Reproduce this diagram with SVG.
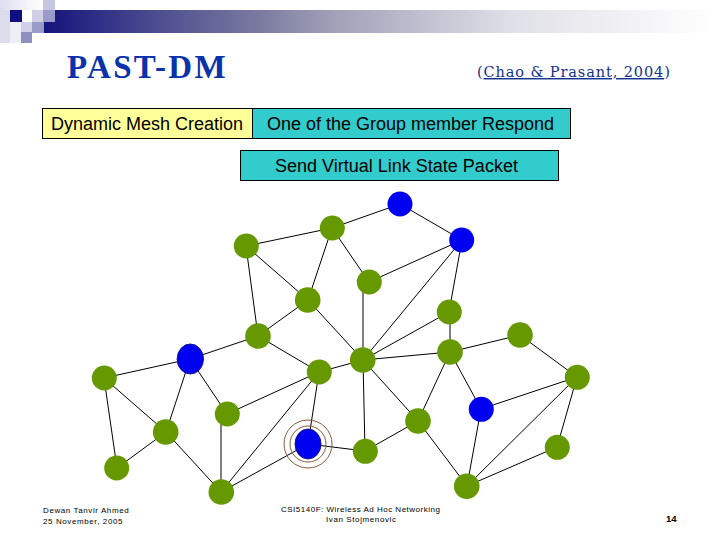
<svg xmlns="http://www.w3.org/2000/svg" width="720" height="540" viewBox="0 0 720 540">
<style>
text{font-family:"Liberation Sans",Arial,sans-serif;fill:#000}
.box{stroke:#000;stroke-width:1}
.lab{font-size:18px;text-anchor:middle}
.foot{font-size:8px;letter-spacing:.6px}
#connectors line{stroke:#000;stroke-width:1}
.g{fill:#669900}.b{fill:#0000f0}
.ring{fill:none;stroke:#8a5a3c;stroke-width:1}
</style>
<defs>
<linearGradient id="band" x1="0" x2="1" y1="0" y2="0"><stop offset="0" stop-color="#14147d"/><stop offset=".16" stop-color="#4a4a8f"/><stop offset=".31" stop-color="#77779f"/><stop offset=".43" stop-color="#a0a0b8"/><stop offset=".7" stop-color="#e0e0e8"/><stop offset="1" stop-color="#ffffff"/></linearGradient>
<linearGradient id="fade" x1="0" x2="1" y1="0" y2="0"><stop offset="0" stop-color="#dedeee"/><stop offset="1" stop-color="#ffffff"/></linearGradient>
</defs>
<rect width="720" height="540" fill="#fff"/>
<rect x="44" y="10" width="670" height="23" fill="url(#band)"/>
<g id="corner">
<rect x="0" y="0" width="43" height="10" fill="url(#fade)"/>
<rect x="0" y="10" width="10" height="33" fill="#dcdcec"/>
<rect x="10" y="22" width="11" height="21" fill="#eeeef6"/>
<rect x="10" y="10" width="12" height="12" fill="#0f0f7d"/>
<rect x="32" y="10" width="11" height="12" fill="#cfcfe6"/>
<rect x="43" y="0" width="12" height="10" fill="#c6c6e0"/>
<rect x="43" y="10" width="12" height="12" fill="#9a9acb"/>
<rect x="21" y="22" width="11" height="10" fill="#d0d0e6"/>
<rect x="32" y="22" width="12" height="11" fill="#9a9ac8"/>
<rect x="21" y="32" width="11" height="11" fill="#8f8fc0"/>
</g>
<text x="67" y="78" style="font-family:'Liberation Serif',serif;font-weight:bold;font-size:33px;fill:#0a32aa;letter-spacing:2.300px">PAST-DM</text>
<text x="477" y="77" style="font-family:'DejaVu Serif',serif;font-size:14.500px;fill:#13318f;letter-spacing:.9px">(<tspan text-decoration="underline">Chao &amp; Prasant, 2004</tspan>)</text>
<g id="node-dmc"><rect class="box" x="42.500" y="108.500" width="210" height="30" fill="#ffff99"/><text class="lab" x="147" y="130">Dynamic Mesh Creation</text></g>
<g id="node-respond"><rect class="box" x="252.500" y="108.500" width="318" height="30" fill="#33cccc"/><text class="lab" x="410.500" y="130">One of the Group member Respond</text></g>
<g id="node-send"><rect class="box" x="240.500" y="150.500" width="318" height="30" fill="#33cccc"/><text class="lab" x="396.500" y="172">Send Virtual Link State Packet</text></g>
<g id="connectors">
<line x1="400" y1="204" x2="332" y2="228"/><line x1="400" y1="204" x2="462" y2="240"/><line x1="332" y1="228" x2="246" y2="246"/><line x1="332" y1="228" x2="308" y2="300"/><line x1="332" y1="228" x2="369" y2="282"/>
<line x1="246" y1="246" x2="308" y2="300"/><line x1="246" y1="246" x2="258" y2="336"/><line x1="308" y1="300" x2="258" y2="336"/><line x1="308" y1="300" x2="363" y2="360"/>
<line x1="369" y1="282" x2="462" y2="240"/><line x1="363" y1="282" x2="363" y2="360"/><line x1="462" y1="240" x2="363" y2="360"/><line x1="462" y1="240" x2="449" y2="312"/>
<line x1="449" y1="312" x2="363" y2="360"/><line x1="450" y1="312" x2="450" y2="352"/><line x1="450" y1="352" x2="363" y2="360"/><line x1="450" y1="352" x2="520" y2="335"/>
<line x1="258" y1="336" x2="319" y2="372"/><line x1="258" y1="336" x2="190" y2="359"/><line x1="319" y1="372" x2="363" y2="360"/>
<line x1="190" y1="359" x2="104" y2="378"/><line x1="190" y1="359" x2="166" y2="432"/><line x1="190" y1="359" x2="227" y2="414"/>
<line x1="104" y1="378" x2="166" y2="432"/><line x1="104" y1="378" x2="117" y2="468"/><line x1="166" y1="432" x2="117" y2="468"/><line x1="166" y1="432" x2="221" y2="492"/>
<line x1="227" y1="414" x2="319" y2="372"/><line x1="221" y1="414" x2="221" y2="492"/><line x1="221" y1="492" x2="319" y2="372"/><line x1="221" y1="492" x2="308" y2="444"/>
<line x1="319" y1="372" x2="308" y2="444"/><line x1="308" y1="444" x2="365" y2="451"/><line x1="363" y1="360" x2="365" y2="451"/><line x1="363" y1="360" x2="418" y2="421"/>
<line x1="450" y1="352" x2="418" y2="421"/><line x1="450" y1="352" x2="481" y2="409"/><line x1="481" y1="409" x2="577" y2="377"/><line x1="481" y1="409" x2="467" y2="486"/>
<line x1="418" y1="421" x2="365" y2="451"/><line x1="418" y1="421" x2="467" y2="486"/><line x1="520" y1="335" x2="577" y2="377"/><line x1="577" y1="377" x2="467" y2="486"/>
<line x1="577" y1="377" x2="557" y2="447"/><line x1="557" y1="447" x2="467" y2="486"/>
</g>
<g id="n1"><circle class="b" cx="400" cy="204" r="12.500"/></g>
<g id="n2"><circle class="b" cx="461.700" cy="240" r="12.500"/></g>
<g id="n3"><circle class="g" cx="332.300" cy="228" r="12.500"/></g>
<g id="n4"><circle class="g" cx="246.300" cy="246" r="12.500"/></g>
<g id="n5"><circle class="g" cx="369.300" cy="282" r="12.500"/></g>
<g id="n6"><circle class="g" cx="307.700" cy="300" r="12.800"/></g>
<g id="n7"><circle class="g" cx="449.300" cy="312" r="12.500"/></g>
<g id="n8"><circle class="g" cx="258" cy="336" r="12.800"/></g>
<g id="n9"><circle class="g" cx="450" cy="352" r="12.800"/></g>
<g id="n10"><circle class="g" cx="362.700" cy="360" r="12.800"/></g>
<g id="n11"><circle class="g" cx="319.300" cy="372" r="12.500"/></g>
<g id="n12"><ellipse class="b" cx="190.300" cy="359" rx="13.200" ry="15" stroke="#14148c"/></g>
<g id="n13"><circle class="g" cx="104.300" cy="378" r="12.500"/></g>
<g id="n14"><circle class="g" cx="165.700" cy="432" r="12.800"/></g>
<g id="n15"><circle class="g" cx="227.300" cy="414" r="12.500"/></g>
<g id="n16"><circle class="g" cx="116.700" cy="468" r="12.500"/></g>
<g id="n17"><circle class="g" cx="221.300" cy="492" r="12.800"/></g>
<g id="n18"><circle class="ring" cx="308" cy="444" r="24"/><circle class="ring" cx="308" cy="444" r="18"/><ellipse class="b" cx="308" cy="444" rx="13" ry="15" stroke="#14148c"/></g>
<g id="n19"><circle class="g" cx="365.300" cy="451.300" r="12.500"/></g>
<g id="n20"><circle class="g" cx="520" cy="335" r="12.800"/></g>
<g id="n21"><circle class="g" cx="577.300" cy="377.300" r="12.500"/></g>
<g id="n22"><circle class="b" cx="481.300" cy="409.300" r="12.500"/></g>
<g id="n23"><circle class="g" cx="418" cy="421" r="12.800"/></g>
<g id="n24"><circle class="g" cx="557.300" cy="447.300" r="12.500"/></g>
<g id="n25"><circle class="g" cx="466.700" cy="486.300" r="12.800"/></g>
<text class="foot" x="43" y="513">Dewan Tanvir Ahmed</text>
<text class="foot" x="43" y="524">25 November, 2005</text>
<text class="foot" x="281" y="512" style="letter-spacing:.5px">CSI5140F: Wireless Ad Hoc Networking</text>
<text class="foot" x="326" y="522">Ivan Stojmenovic</text>
<text x="666" y="522" style="font-size:9.500px;font-weight:bold">14</text>
</svg>
